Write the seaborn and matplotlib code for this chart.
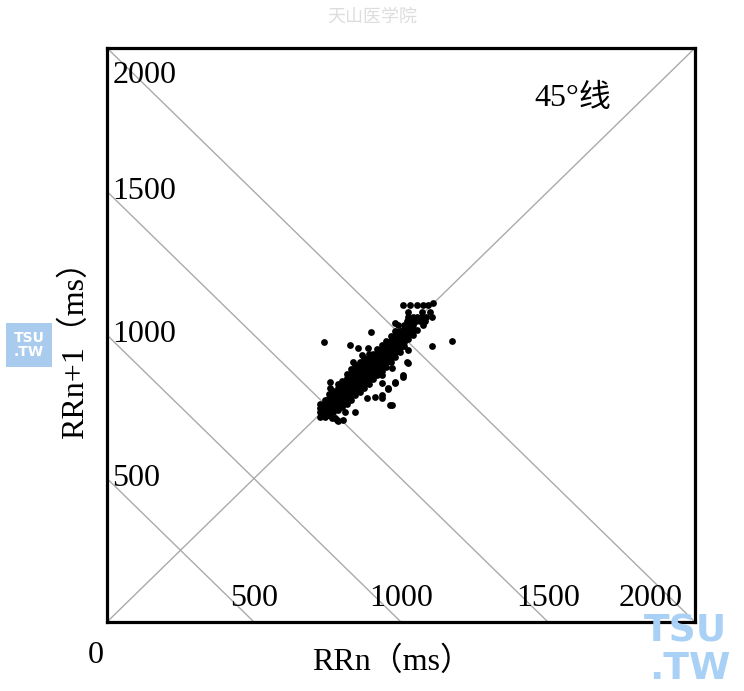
import numpy as np
import pandas as pd
import matplotlib
matplotlib.use("Agg")
import matplotlib.pyplot as plt
import seaborn as sns

# ---------------- data ----------------
axis_max = 2000
tick_values = [500, 1000, 1500, 2000]
anti_diag_sums = [500, 1000, 1500, 2000]

# dense core of the Lorenz (Poincaré) plot: column x -> list of RRn+1 values
core_cols = [725, 740, 755, 770, 785, 800, 815, 830, 845, 860, 875, 890,
             905, 920, 935, 950, 965, 980, 995, 1010, 1025, 1040]
core_vals = [
    [715, 730, 745, 760],
    [715, 730, 745, 760, 775],
    [720, 735, 750, 765, 780, 795],
    [730, 745, 760, 775, 790, 805],
    [740, 755, 770, 785, 800, 815, 830],
    [750, 765, 780, 795, 810, 825, 840],
    [760, 775, 790, 805, 820, 835, 850, 865],
    [775, 790, 805, 820, 835, 850, 865, 880],
    [790, 805, 820, 835, 850, 865, 880, 895],
    [800, 815, 830, 845, 860, 875, 890, 905],
    [815, 830, 845, 860, 875, 890, 905, 920],
    [830, 845, 860, 875, 890, 905, 920, 935],
    [845, 860, 875, 890, 905, 920, 935],
    [860, 875, 890, 905, 920, 935, 950],
    [875, 890, 905, 920, 935, 950, 965],
    [890, 905, 920, 935, 950, 965, 980],
    [905, 920, 935, 950, 965, 980, 995],
    [925, 940, 955, 970, 985, 1000, 1015],
    [940, 955, 970, 985, 1000, 1015],
    [960, 975, 990, 1005, 1020, 1035],
    [985, 1000, 1015, 1030],
    [1000, 1020, 1035],
]

# scattered beats around the core
scatter_rrn = [738, 1173, 898, 1105,
               1007, 1030, 1054, 1075, 1092, 1109,
               1024, 1071, 1098,
               1024, 1040, 1055, 1070, 1085, 1105,
               1020, 1035, 1050, 1065, 1080,
               980, 1075, 990, 1007, 1025, 1040, 1054,
               826, 854, 888, 867, 837, 854, 758, 758,
               1024, 1020, 1007, 980, 956, 935, 962, 911, 884, 843, 809,
               782, 765, 748, 775, 786, 803,
               935, 969, 1024, 1007, 980, 935, 956, 935, 969]
scatter_rrn1 = [976, 979, 1010, 962,
                1104, 1104, 1104, 1104, 1104, 1110,
                1080, 1080, 1080,
                1063, 1063, 1063, 1063, 1063, 1063,
                1049, 1049, 1049, 1049, 1049,
                1042, 1035, 1035, 1017, 1017, 1017, 1017,
                965, 955, 955, 930, 906, 885, 836, 815,
                948, 906, 854, 836, 815, 791, 756, 784, 780, 732, 732,
                704, 711, 721, 711, 700, 704,
                860, 885, 902, 860, 833, 833, 812, 780, 756]

rr_n = []
rr_n1 = []
for cx, ys in zip(core_cols, core_vals):
    for yv in ys:
        rr_n.append(cx)
        rr_n1.append(yv)
rr_n += scatter_rrn
rr_n1 += scatter_rrn1
df = pd.DataFrame({"RRn": rr_n, "RRn1": rr_n1})

# ---------------- figure ----------------
sns.set_theme(style="white")
plt.rcParams["font.family"] = ["Liberation Serif", "Noto Sans CJK SC", "DejaVu Sans"]
plt.rcParams["text.color"] = "black"

W, H = 744, 691
fig = plt.figure(figsize=(W / 100, H / 100), dpi=100)
ax = fig.add_axes([107 / W, 1 - 622 / H, (695 - 107) / W, (622 - 48) / H])

line_col = "#aaaaaa"
ax.plot([0, axis_max], [0, axis_max], color=line_col, lw=1.0, zorder=1)
for s in anti_diag_sums:
    ax.plot([0, s], [s, 0], color=line_col, lw=1.0, zorder=1)

sns.scatterplot(data=df, x="RRn", y="RRn1", s=24, color="black",
                linewidth=0, marker="o", ax=ax, zorder=3, legend=False)

ax.set_xlim(0, axis_max)
ax.set_ylim(0, axis_max)
ax.set_xticks([])
ax.set_yticks([])
ax.set_xlabel("")
ax.set_ylabel("")
for sp in ax.spines.values():
    sp.set_visible(True)
    sp.set_color("black")
    sp.set_linewidth(2.3)

fs = 23
# tick labels inside the frame
for v in tick_values:
    ax.text(18, min(v, 1905), str(v), ha="left", va="center", fontsize=fs,
            color="black", zorder=4)
    ax.text(min(v, 1850), 30, str(v), ha="center", va="bottom", fontsize=fs,
            color="black", zorder=4)
ax.annotate("0", xy=(0, 0), xytext=(-8, -24), textcoords="offset points",
            ha="center", va="center", fontsize=fs, color="black",
            annotation_clip=False)

ax.text(1585, 1825, "45°线", ha="center", va="center", fontsize=fs, color="black")

fig.text(392 / W, 1 - 662 / H, "RRn（ms）", ha="center", va="center",
         fontsize=fs, color="black")
fig.text(75 / W, 1 - 342 / H, "RRn+1（ms）", ha="center", va="center",
         rotation=90, fontsize=fs, color="black")

# watermarks
fig.text(372 / W, 1 - 17 / H, "天山医学院", ha="center", va="center",
         fontsize=13, color="#dddddd", family=["Noto Sans CJK SC"])
fig.text(29 / W, 1 - 345 / H, "TSU\n.TW", ha="center", va="center",
         fontsize=10, color="white", fontweight="bold", family=["DejaVu Sans"],
         linespacing=1.0,
         bbox=dict(boxstyle="square,pad=0.55", fc="#a9cbee", ec="none"))
fig.text(686 / W, 1 - 641 / H, "TSU", ha="center", va="baseline", fontsize=27,
         color="#a9d0f5", fontweight="bold", family=["DejaVu Sans"])
fig.text(690 / W, 1 - 679 / H, ".TW", ha="center", va="baseline", fontsize=27,
         color="#a9d0f5", fontweight="bold", family=["DejaVu Sans"])

fig.savefig("out.png", dpi=100)
